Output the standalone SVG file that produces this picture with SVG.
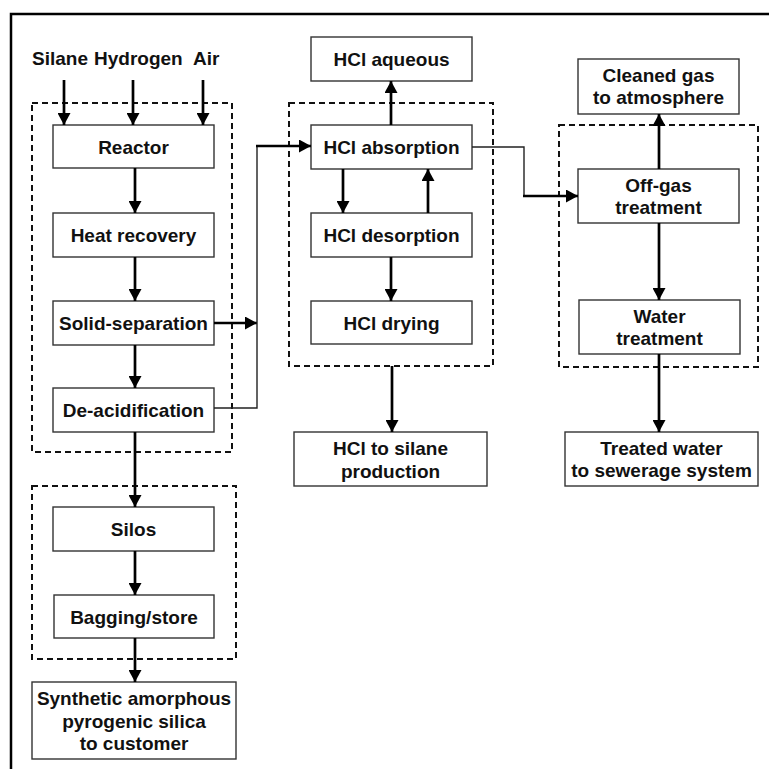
<svg xmlns="http://www.w3.org/2000/svg" width="769" height="769" viewBox="0 0 769 769">
<style>
.box{fill:#fff;stroke:#333;stroke-width:1.4}
.grp{fill:none;stroke:#111;stroke-width:2;stroke-dasharray:6 4}
.t{font-family:"Liberation Sans",Arial,sans-serif;font-weight:bold;font-size:19px;fill:#111;text-anchor:middle}
.ts{font-family:"Liberation Sans",Arial,sans-serif;font-weight:bold;font-size:19px;fill:#111}
.a{fill:none;stroke:#000;stroke-width:2.7;marker-end:url(#ah)}
.l{fill:none;stroke:#222;stroke-width:1.4}
</style>
<defs>
<marker id="ah" markerWidth="12" markerHeight="13" refX="12" refY="6.5" orient="auto" markerUnits="userSpaceOnUse">
<path d="M0,0 L12,6.5 L0,13 Z" fill="#000"/>
</marker>
</defs>
<rect width="769" height="769" fill="#fff"/>
<path d="M11,769 V14 H769" fill="none" stroke="#000" stroke-width="2.5"/>

<g id="groups">
<rect class="grp" x="32" y="103" width="200" height="349"/>
<rect class="grp" x="32" y="486" width="204" height="173"/>
<rect class="grp" x="289" y="103" width="204" height="263"/>
<rect class="grp" x="559" y="125" width="199" height="242"/>
</g>

<g id="inputs">
<text class="ts" x="32" y="65">Silane</text>
<text class="ts" x="94" y="65">Hydrogen</text>
<text class="ts" x="193" y="65">Air</text>
</g>

<g id="reactor"><rect class="box" x="53" y="125" width="161" height="43"/><text class="t" x="133.5" y="154">Reactor</text></g>
<g id="heat-recovery"><rect class="box" x="53" y="213" width="161" height="44"/><text class="t" x="133.5" y="242">Heat recovery</text></g>
<g id="solid-separation"><rect class="box" x="53" y="301" width="161" height="44"/><text class="t" x="133.5" y="330">Solid-separation</text></g>
<g id="de-acidification"><rect class="box" x="53" y="388" width="161" height="44"/><text class="t" x="133.5" y="417">De-acidification</text></g>
<g id="silos"><rect class="box" x="53" y="507" width="161" height="44"/><text class="t" x="133.5" y="536">Silos</text></g>
<g id="bagging"><rect class="box" x="54" y="595" width="160" height="43"/><text class="t" x="134" y="624">Bagging/store</text></g>
<g id="silica-customer"><rect class="box" x="32" y="682" width="204" height="77"/>
<text class="t" x="134" y="705">Synthetic amorphous</text>
<text class="t" x="134" y="727.5">pyrogenic silica</text>
<text class="t" x="134" y="750">to customer</text></g>

<g id="hcl-aqueous"><rect class="box" x="311" y="37" width="161" height="44"/><text class="t" x="391.5" y="66">HCl aqueous</text></g>
<g id="hcl-absorption"><rect class="box" x="311" y="125" width="161" height="44"/><text class="t" x="391.5" y="154">HCl absorption</text></g>
<g id="hcl-desorption"><rect class="box" x="311" y="213" width="161" height="44"/><text class="t" x="391.5" y="242">HCl desorption</text></g>
<g id="hcl-drying"><rect class="box" x="311" y="301" width="161" height="43"/><text class="t" x="391.5" y="330">HCl drying</text></g>
<g id="hcl-silane"><rect class="box" x="294" y="432" width="193" height="54"/>
<text class="t" x="390.5" y="455">HCl to silane</text>
<text class="t" x="390.5" y="478">production</text></g>

<g id="cleaned-gas"><rect class="box" x="578" y="59" width="161" height="55"/>
<text class="t" x="658.5" y="82">Cleaned gas</text>
<text class="t" x="658.5" y="104">to atmosphere</text></g>
<g id="off-gas"><rect class="box" x="578" y="169" width="161" height="54"/>
<text class="t" x="658.5" y="192">Off-gas</text>
<text class="t" x="658.5" y="214">treatment</text></g>
<g id="water-treatment"><rect class="box" x="579" y="300" width="161" height="54"/>
<text class="t" x="659.5" y="323">Water</text>
<text class="t" x="659.5" y="345">treatment</text></g>
<g id="treated-water"><rect class="box" x="565" y="432" width="193" height="54"/>
<text class="t" x="661.5" y="455">Treated water</text>
<text class="t" x="661.5" y="477">to sewerage system</text></g>

<g id="connectors">
<path class="a" d="M64,80 V125"/>
<path class="a" d="M133,80 V125"/>
<path class="a" d="M203,80 V125"/>
<path class="a" d="M135,168 V213"/>
<path class="a" d="M135,257 V301"/>
<path class="a" d="M135,345 V388"/>
<path class="a" d="M135,432 V507"/>
<path class="a" d="M135,551 V595"/>
<path class="a" d="M135,638 V682"/>
<path class="a" d="M214,323 H257"/>
<path class="l" d="M214,408 H257 V146"/>
<path class="a" d="M256,146 H311"/>
<path class="a" d="M391,125 V81"/>
<path class="a" d="M343,169 V213"/>
<path class="a" d="M428,213 V169"/>
<path class="a" d="M391,257 V301"/>
<path class="a" d="M392,366 V432"/>
<path class="l" d="M472,147 H524 V196"/>
<path class="a" d="M523,196 H578"/>
<path class="a" d="M659,169 V114"/>
<path class="a" d="M659,223 V300"/>
<path class="a" d="M659,354 V432"/>
</g>
</svg>
